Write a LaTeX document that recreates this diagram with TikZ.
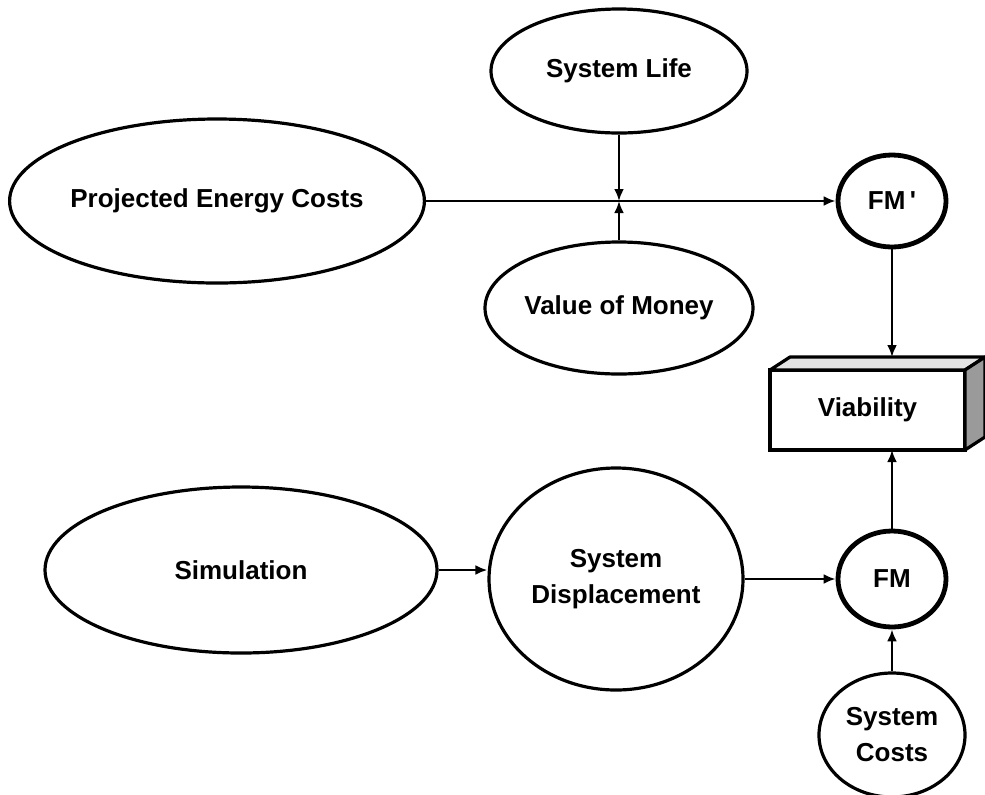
\documentclass[tikz,border=0pt]{standalone}
\usepackage{fontspec}
\setmainfont{Liberation Sans}
\usepackage{tikz}
\usetikzlibrary{arrows.meta,shapes.geometric,calc}
\definecolor{boxtop}{HTML}{E4E4E4}
\definecolor{boxside}{HTML}{9A9A9A}

\tikzset{
  oval/.style={ellipse,draw,line width=1.6pt,inner sep=0pt,align=center,
    font=\bfseries\fontsize{13}{18}\selectfont},
  fmoval/.style={oval,line width=2.4pt},
  link/.style={->,line width=1.35pt},
}

\begin{document}
\begin{tikzpicture}[x=0.5pt,y=-0.5pt,>={Latex[length=6pt,width=5pt]}]
  \useasboundingbox (0,0) rectangle (985,794);
  \node[oval,minimum width=205pt,minimum height=82pt] (pec) at (217,201) {Projected Energy Costs};
  \node[oval,minimum width=128pt,minimum height=62pt] (life) at (619,71) {System Life};
  \node[oval,minimum width=134pt,minimum height=66pt] (money) at (619,308) {Value of Money};
  \node[fmoval,minimum width=54pt,minimum height=46pt] (fmp) at (892,201) {FM\,\textquotesingle};
  \node[oval,minimum width=196pt,minimum height=83pt] (sim) at (241,570) {Simulation};
  \node[oval,minimum width=127pt,minimum height=111pt] (displ) at (616,579) {System\\Displacement};
  \node[fmoval,minimum width=54pt,minimum height=48pt] (fm) at (892,579) {FM};
  \node[oval,minimum width=73pt,minimum height=62pt] (cost) at (892,735) {System\\Costs};
  \node[draw,line width=1.6pt,outer sep=0pt,inner sep=0pt,minimum width=97.5pt,minimum height=40pt,
    font=\bfseries\fontsize{13}{18}\selectfont] (viab) at (867.5,410) {Viability};
  \filldraw[line width=1.6pt,line join=round,fill=boxtop]
    (viab.north west) -- ($(viab.north west)+(10pt,6.5pt)$) -- ($(viab.north east)+(10pt,6.5pt)$)
    -- (viab.north east) -- cycle;
  \filldraw[line width=1.6pt,line join=round,fill=boxside]
    (viab.north east) -- ($(viab.north east)+(10pt,6.5pt)$) -- ($(viab.south east)+(10pt,6.5pt)$)
    -- (viab.south east) -- cycle;
  \coordinate (vtop) at ($(viab.north west)+(10pt,6.5pt)$);
  \coordinate (cross) at (life.south |- pec.east);
  \draw[link] (pec) -- (fmp);
  \draw[link] (life) -- (cross);
  \draw[link] (money) -- (cross);
  \draw[link] (fmp) -- (fmp |- vtop);
  \draw[link] (sim.east) -- (sim.east -| displ.west);
  \draw[link] (displ) -- (fm);
  \draw[link] (fm) -- (fm |- viab.south);
  \draw[link] (cost) -- (fm);
\end{tikzpicture}
\end{document}
